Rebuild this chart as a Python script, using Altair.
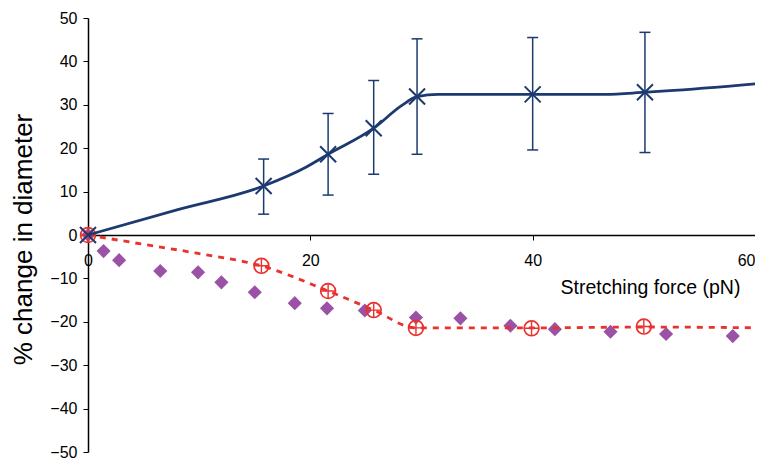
import altair as alt
import pandas as pd

# Blue series (markers + error bars)
blue_x = [0, 15.8, 21.6, 25.7, 29.6, 40.0, 50.1]
blue_y = [0, 11.3, 18.6, 24.6, 31.9, 32.4, 32.9]
err_x = [15.8, 21.6, 25.7, 29.6, 40.0, 50.1]
err_lo = [4.8, 9.2, 14.0, 18.6, 19.6, 19.0]
err_hi = [17.5, 28.0, 35.6, 45.2, 45.5, 46.7]
# Blue smoothed line
blue_line_x = [0, 8.0, 15.8, 19.6, 21.6, 25.7, 28.2, 29.6, 31.5, 40.0, 46.5, 50.1, 52.0, 60.7]
blue_line_y = [0, 5.8, 11.3, 15.6, 18.6, 24.6, 29.8, 31.9, 32.4, 32.4, 32.4, 32.9, 33.2, 35.0]

# Red series (open circle markers + dashed line)
red_x = [0, 15.6, 21.6, 25.7, 29.5, 39.9, 50.0]
red_y = [0, -7.1, -12.9, -17.3, -21.4, -21.5, -21.1]
red_line_x = [0, 4.4, 9.8, 15.6, 21.6, 25.7, 29.5, 40.0, 50.0, 60.7]
red_line_y = [0, -1.9, -4.2, -7.1, -12.9, -17.3, -21.4, -21.4, -21.2, -21.4]

# Purple diamonds
purple_x = [0, 1.4, 2.8, 6.5, 9.9, 12.0, 15.0, 18.6, 21.5, 24.9, 29.5, 33.5, 38.0, 42.0, 47.0, 52.0, 58.0]
purple_y = [0, -3.7, -5.8, -8.3, -8.6, -10.9, -13.2, -15.7, -16.9, -17.4, -19.0, -19.2, -20.9, -21.7, -22.3, -22.8, -23.3]

x_ticks = [0, 20, 40, 60]
y_ticks = list(range(-50, 51, 10))

NAVY = "#1d3a70"
RED = "#e8322e"
PURPLE = "#9b52a6"
FONT = "Liberation Sans"

W, H = 667, 434

x_scale = alt.Scale(domain=[0, 60], nice=False, zero=False)
y_scale = alt.Scale(domain=[-50, 50], nice=False, zero=False)

x_axis = alt.Axis(
    values=x_ticks, title="Stretching force (pN)", offset=-H / 2,
    titleFontSize=19.5, titleFont=FONT, titleFontWeight="normal", titleColor="black",
    titleX=562, titleY=52, titleAlign="center", titleBaseline="middle", titleAngle=0,
    labelFontSize=16, labelFont=FONT, labelColor="black", labelFlush=False,
    labelAlign={"condition": {"test": "datum.value === 60", "value": "right"}, "value": "center"},
    labelPadding=12, tickSize=5, tickColor="black", tickWidth=1,
    domainColor="black", domainWidth=1.5, grid=False,
)
y_axis = alt.Axis(
    values=y_ticks, title="% change in diameter",
    titleFontSize=26, titleFont=FONT, titleFontWeight="normal", titleColor="black",
    titleX=-65, titleY=H / 2 + 4, titleAlign="center", titleBaseline="middle", titleAngle=270,
    labelFontSize=16, labelFont=FONT, labelColor="black", labelFlush=False,
    labelPadding=6, tickSize=5, tickColor="black", tickWidth=1,
    domainColor="black", domainWidth=1.5, grid=False,
)


def X(field):
    return alt.X(field, type="quantitative", scale=x_scale, axis=x_axis)


def Y(field):
    return alt.Y(field, type="quantitative", scale=y_scale, axis=y_axis)


blue_df = pd.DataFrame({"x": blue_x, "y": blue_y})
blue_line_df = pd.DataFrame({"x": blue_line_x, "y": blue_line_y})
err_df = pd.DataFrame({"x": err_x, "lo": err_lo, "hi": err_hi})
caps_df = pd.DataFrame({"x": err_x + err_x, "y": err_lo + err_hi})
red_df = pd.DataFrame({"x": red_x, "y": red_y})
red_line_df = pd.DataFrame({"x": red_line_x, "y": red_line_y})
purple_df = pd.DataFrame({"x": purple_x, "y": purple_y})

purple = alt.Chart(purple_df).mark_point(
    shape="diamond", filled=True, size=200, color=PURPLE, opacity=1
).encode(x=X("x"), y=Y("y"))

red_line = alt.Chart(red_line_df).mark_line(
    color=RED, strokeWidth=2.8, strokeDash=[6, 6], interpolate="monotone"
).encode(x=X("x"), y=Y("y"))

red_circ = alt.Chart(red_df).mark_point(
    shape="circle", filled=False, size=220, color=RED, strokeWidth=1.7, opacity=1
).encode(x=X("x"), y=Y("y"))

red_plus = alt.Chart(red_df).mark_point(
    shape="M-1,0L1,0M0,-1L0,1", filled=False, size=190, color=RED, strokeWidth=1.4, opacity=1
).encode(x=X("x"), y=Y("y"))

err_rule = alt.Chart(err_df).mark_rule(color=NAVY, strokeWidth=1.5).encode(
    x=X("x"), y=Y("lo"), y2="hi"
)

err_caps = alt.Chart(caps_df).mark_tick(
    orient="horizontal", size=11, thickness=1.5, color=NAVY, opacity=1
).encode(x=X("x"), y=Y("y"))

blue_line = alt.Chart(blue_line_df).mark_line(
    color=NAVY, strokeWidth=2.8, interpolate="monotone"
).encode(x=X("x"), y=Y("y"))

blue_pts = alt.Chart(blue_df).mark_point(
    shape="M-1,-1L1,1M-1,1L1,-1", filled=False, size=256, color=NAVY, strokeWidth=2, opacity=1
).encode(x=X("x"), y=Y("y"))

chart = alt.layer(
    purple, red_line, red_circ, red_plus, err_rule, err_caps, blue_line, blue_pts
).properties(
    width=W, height=H,
    autosize=alt.AutoSizeParams(type="none"),
    padding={"left": 80, "top": 10, "right": 0, "bottom": 7},
    background="white",
).configure_view(stroke="transparent")

chart.save("out.html", embed_options={"renderer": "svg", "actions": False})
